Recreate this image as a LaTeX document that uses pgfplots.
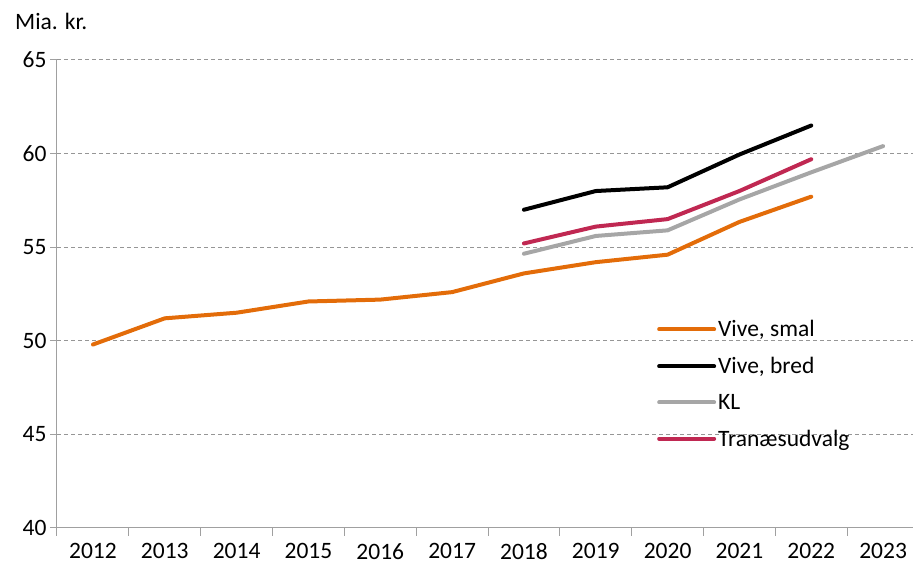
\documentclass[border=0pt]{standalone}
\usepackage{pgfplots}
\pgfplotsset{compat=1.18}
\usepackage{fontspec}
\setmainfont{Carlito}
\definecolor{cOrange}{RGB}{227,108,9}
\definecolor{cGray}{RGB}{166,166,166}
\definecolor{cPink}{RGB}{192,40,82}
\definecolor{axGray}{RGB}{160,160,160}
\definecolor{gridGray}{RGB}{150,150,150}
\begin{document}
\begin{tikzpicture}
\begin{axis}[name=ax, scale only axis, width=862pt, height=468pt,
  xmin=-0.5, xmax=11.5, ymin=40, ymax=65,
  axis x line*=bottom, axis y line*=left,
  axis line style={-, axGray, line width=1pt},
  xtick={0,...,11},
  xticklabels={2012,2013,2014,2015,2016,2017,2018,2019,2020,2021,2022,2023},
  major x tick style={draw=none},
  minor xtick={-0.5,0.5,...,11.5},
  minor x tick style={axGray, line width=1pt},
  minor tick length=8pt,
  ytick={40,45,...,65},
  major tick length=7pt,
  y tick style={axGray, line width=1pt},
  tick align=outside,
  ymajorgrids,
  grid style={gridGray, line width=1pt, dash pattern=on 4pt off 3pt},
  /pgf/number format/assume math mode=true,
  ticklabel style={font=\fontsize{23.5}{26}\selectfont},
  xticklabel style={yshift=-5pt},
  legend style={at={(0.696,0.448)}, anchor=north west, draw=none, fill=none,
    font=\fontsize{23.5}{26}\selectfont, row sep=15pt, inner sep=0pt},
  legend cell align=left,
  legend image code/.code={\draw[#1] (0pt,0pt) -- (55pt,0pt);},
  every axis plot/.append style={line width=4pt, line join=round, line cap=round, no marks},
]
\addplot[cOrange] coordinates {(0,49.8) (1,51.2) (2,51.5) (3,52.1) (4,52.2) (5,52.6) (6,53.6) (7,54.2) (8,54.6) (9,56.35) (10,57.7)};
\addlegendentry{Vive, smal}
\addplot[black] coordinates {(6,57.0) (7,58.0) (8,58.2) (9,59.95) (10,61.5)};
\addlegendentry{Vive, bred}
\addplot[cGray] coordinates {(6,54.65) (7,55.6) (8,55.9) (9,57.55) (10,59.0) (11,60.4)};
\addlegendentry{KL}
\addplot[cPink] coordinates {(6,55.2) (7,56.1) (8,56.5) (9,58.0) (10,59.7)};
\addlegendentry{Tranæsudvalg}
\end{axis}
\node[anchor=base west, font=\fontsize{23.5}{26}\selectfont, inner sep=0pt] at ([xshift=-42pt,yshift=30pt]ax.north west) {Mia. kr.};
\pgfresetboundingbox
\path ([xshift=-57pt,yshift=-39pt]ax.south west) rectangle ([xshift=-6pt,yshift=60pt]ax.north east);
\end{tikzpicture}
\end{document}
